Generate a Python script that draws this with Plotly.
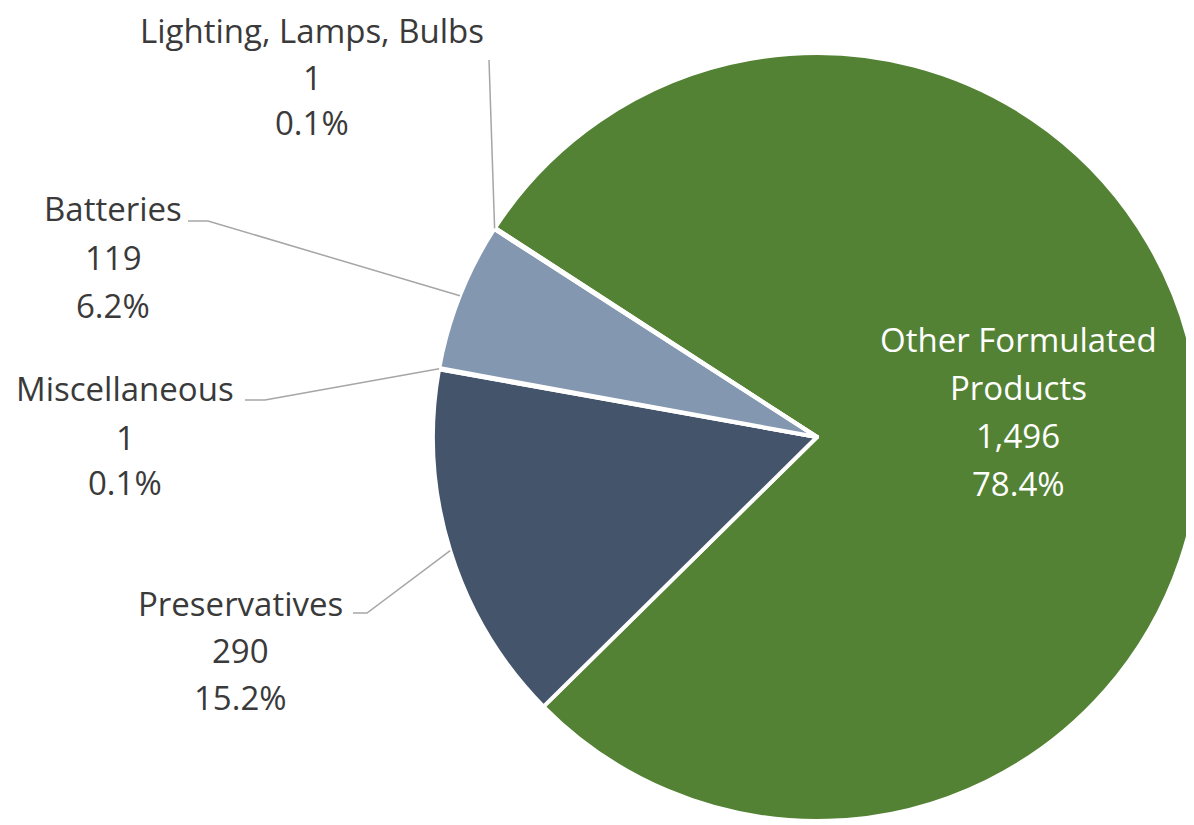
import math
import plotly.graph_objects as go

# ---- data ----
labels = ["Other Formulated Products", "Preservatives", "Miscellaneous", "Batteries", "Lighting, Lamps, Bulbs"]
counts = [1496, 290, 1, 119, 1]
colors = ["#548235", "#44546A", "#ADB9CA", "#8497B0", "#D6DCE5"]

W, H = 1194, 825
OFF = 8  # page body margin: figure is drawn 8px right/down in the window
ROT = -57
CX, CY, R = 817, 437, 384  # window-pixel geometry of the pie
FONT = "Open Sans"
FS = 33
TXT = "#3A3A3A"
LINE = "#A6A6A6"

total = sum(counts)
pct = [f"{100 * c / total:.1f}%" for c in counts]
vtxt = [f"{c:,}" for c in counts]

fcx, fcy = CX - OFF, CY - OFF
fig = go.Figure(go.Pie(
    labels=labels, values=counts, sort=False, direction="clockwise",
    rotation=ROT, textinfo="none", hoverinfo="label+value+percent",
    marker=dict(colors=colors, line=dict(color="white", width=4)),
    domain=dict(x=[(fcx - R) / W, min(1.0, (fcx + R) / W)],
                y=[(H - fcy - R) / H, (H - fcy + R) / H]),
    showlegend=False,
))

# slice mid-angles (clockwise from 12 o'clock) -> point on the rim
mid_pts = {}
acc = 0.0
for lab, c in zip(labels, counts):
    a0 = ROT + 360 * acc / total
    acc += c
    a1 = ROT + 360 * acc / total
    m = math.radians((a0 + a1) / 2)
    mid_pts[lab] = (CX + R * math.sin(m), CY - R * math.cos(m))

def px(x):
    return (x - OFF) / W

def py(y):
    return 1 - (y - OFF) / H

# label text layout (window px): name -> (center x, line y centers)
label_layout = {
    "Lighting, Lamps, Bulbs": (312, [31, 78, 122]),
    "Batteries": (113, [208, 258, 305]),
    "Miscellaneous": (125, [388, 437, 482]),
    "Preservatives": (240, [603, 650, 697]),
}
annotations = []
for lab, (x, ys) in label_layout.items():
    i = labels.index(lab)
    for t, y in zip([lab, vtxt[i], pct[i]], ys):
        annotations.append(dict(x=px(x), y=py(y), xref="paper", yref="paper", text=t,
                                showarrow=False, xanchor="center", yanchor="middle",
                                font=dict(family=FONT, size=FS, color=TXT)))

i0 = 0
for t, y in zip(["Other Formulated", "Products", vtxt[i0], pct[i0]], [340, 387, 435, 483]):
    annotations.append(dict(x=px(1018), y=py(y), xref="paper", yref="paper", text=t,
                            showarrow=False, xanchor="center", yanchor="middle",
                            font=dict(family=FONT, size=FS, color="white")))

# leader lines: start at label, optional short horizontal, end at slice rim
leader_starts = {
    "Lighting, Lamps, Bulbs": [(489, 60)],
    "Batteries": [(188, 221), (208, 221)],
    "Miscellaneous": [(245, 400), (265, 400)],
    "Preservatives": [(353, 613), (367, 613)],
}
shapes = []
for lab, pts in leader_starts.items():
    allp = pts + [mid_pts[lab]]
    path = "M " + " L ".join(f"{px(x):.5f},{py(y):.5f}" for x, y in allp)
    shapes.append(dict(type="path", path=path, xref="paper", yref="paper",
                       line=dict(color=LINE, width=1.5)))

fig.update_layout(
    width=W, height=H, margin=dict(l=0, r=0, t=0, b=0),
    paper_bgcolor="white", plot_bgcolor="white",
    annotations=annotations, shapes=shapes,
)
fig.write_html("out.html")
